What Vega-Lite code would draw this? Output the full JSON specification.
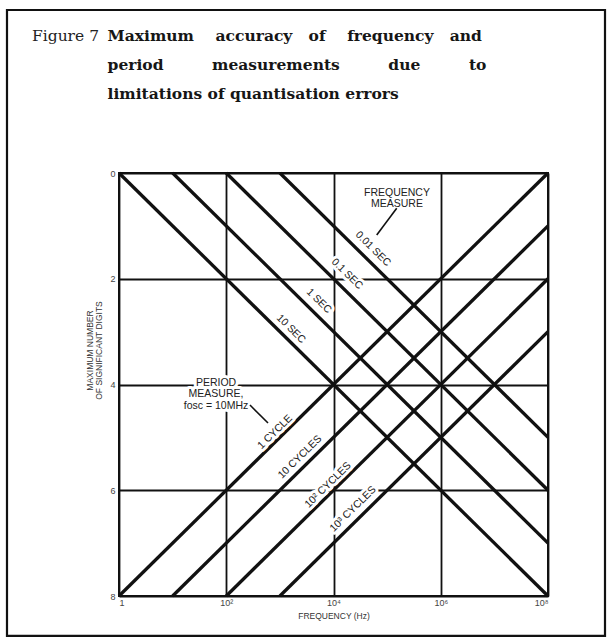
{
  "$schema": "https://vega.github.io/schema/vega-lite/v6.json",
  "width": 429,
  "height": 423,
  "autosize": {"type": "none"},
  "padding": {"left": 119, "top": 173, "right": 63, "bottom": 44},
  "background": "white",
  "title": {
    "text": "Figure 7",
    "subtitle": [
      "\u200b\u00a0\u00a0\u00a0\u00a0\u00a0\u00a0\u00a0\u00a0\u00a0\u00a0\u00a0\u00a0\u00a0\u00a0Maximum\u00a0\u00a0\u00a0\u00a0accuracy\u00a0\u00a0\u00a0of\u00a0\u00a0\u00a0\u00a0frequency\u00a0\u00a0\u00a0and",
      "\u200b\u00a0\u00a0\u00a0\u00a0\u00a0\u00a0\u00a0\u00a0\u00a0\u00a0\u00a0\u00a0\u00a0\u00a0period\u00a0\u00a0\u00a0\u00a0\u00a0\u00a0\u00a0\u00a0\u00a0measurements\u00a0\u00a0\u00a0\u00a0\u00a0\u00a0\u00a0\u00a0\u00a0due\u00a0\u00a0\u00a0\u00a0\u00a0\u00a0\u00a0\u00a0\u00a0to",
      "\u200b\u00a0\u00a0\u00a0\u00a0\u00a0\u00a0\u00a0\u00a0\u00a0\u00a0\u00a0\u00a0\u00a0\u00a0limitations of quantisation errors"
    ],
    "anchor": "start",
    "frame": "group",
    "dx": -87,
    "offset": -94,
    "font": "DejaVu Serif",
    "fontSize": 15.5,
    "fontWeight": "normal",
    "color": "#222222",
    "subtitleFont": "DejaVu Serif",
    "subtitleFontSize": 15.5,
    "subtitleFontWeight": "bold",
    "subtitleColor": "#161616",
    "subtitleLineHeight": 29,
    "subtitlePadding": -15.5
  },
  "config": {
    "font": "Liberation Sans",
    "view": {"stroke": "#111111", "strokeWidth": 2},
    "axis": {
      "grid": true,
      "gridColor": "#111111",
      "gridWidth": 1.8,
      "gridOpacity": 1,
      "domain": false,
      "ticks": false,
      "labelFont": "Liberation Sans",
      "labelFontSize": 9,
      "labelColor": "#444444",
      "titleFont": "Liberation Sans",
      "titleFontSize": 8.5,
      "titleFontWeight": "normal",
      "titleColor": "#333333"
    }
  },
  "datasets": {
    "frame": [
      {"f_left": 0.008153, "f_right": 1156000000, "d_top": -3.083, "d_bottom": 8.756}
    ],
    "lines": [
      {"series": "10 SEC", "f_start": 1, "d_start": 0, "f_end": 100000000, "d_end": 8},
      {"series": "1 SEC", "f_start": 10, "d_start": 0, "f_end": 100000000, "d_end": 7},
      {"series": "0.1 SEC", "f_start": 100, "d_start": 0, "f_end": 100000000, "d_end": 6},
      {"series": "0.01 SEC", "f_start": 1000, "d_start": 0, "f_end": 100000000, "d_end": 5},
      {"series": "1 CYCLE", "f_start": 1, "d_start": 8, "f_end": 100000000, "d_end": 0},
      {"series": "10 CYCLES", "f_start": 10, "d_start": 8, "f_end": 100000000, "d_end": 1},
      {"series": "10² CYCLES", "f_start": 100, "d_start": 8, "f_end": 100000000, "d_end": 2},
      {"series": "10³ CYCLES", "f_start": 1000, "d_start": 8, "f_end": 100000000, "d_end": 3}
    ],
    "labels": [
      {"family": "freq", "text": "0.01 SEC", "f": 54580, "d": 1.437},
      {"family": "freq", "text": "0.1 SEC", "f": 17865, "d": 1.91},
      {"family": "freq", "text": "1 SEC", "f": 5370, "d": 2.421},
      {"family": "freq", "text": "10 SEC", "f": 1611, "d": 2.95},
      {"family": "period", "text": "1 CYCLE", "f": 811, "d": 4.898},
      {"family": "period", "text": "10 CYCLES", "f": 2371, "d": 5.371},
      {"family": "period", "text": "10² CYCLES", "f": 7889, "d": 5.901},
      {"family": "period", "text": "10³ CYCLES", "f": 23121, "d": 6.355},
      {"family": "note", "text": "FREQUENCY\nMEASURE", "f": 152800, "d": 0.369},
      {"family": "note", "text": "PERIOD\nMEASURE,\nfosc = 10MHz", "f": 64.4, "d": 3.97}
    ],
    "leaders": [
      {"f_start": 151000, "d_start": 0.668, "f_end": 63970, "d_end": 1.173},
      {"f_start": 277, "d_start": 4.388, "f_end": 601, "d_end": 4.728}
    ]
  },
  "layer": [
    {
      "data": {"name": "lines"},
      "mark": {"type": "rule", "color": "#111111", "strokeWidth": 3.3},
      "encoding": {
        "x": {
          "field": "f_start",
          "type": "quantitative",
          "scale": {"type": "log", "domain": [1, 100000000], "nice": false},
          "axis": {
            "values": [1, 100, 10000, 1000000, 100000000],
            "labelExpr": "datum.value == 1 ? '1' : datum.value == 100 ? '10²' : datum.value == 10000 ? '10⁴' : datum.value == 1000000 ? '10⁶' : '10⁸'",
            "labelPadding": 2,
            "title": "FREQUENCY (Hz)",
            "titlePadding": 4
          }
        },
        "x2": {"field": "f_end"},
        "y": {
          "field": "d_start",
          "type": "quantitative",
          "scale": {"domain": [0, 8], "reverse": true, "nice": false, "zero": false},
          "axis": {
            "values": [0, 2, 4, 6, 8],
            "labelPadding": 4,
            "title": ["MAXIMUM NUMBER", "OF SIGNIFICANT DIGITS"],
            "titleLineHeight": 9,
            "titlePadding": 6,
            "titleY": 177
          }
        },
        "y2": {"field": "d_end"}
      }
    },
    {
      "data": {"name": "frame"},
      "mark": {"type": "rect", "filled": false, "stroke": "#111111", "strokeWidth": 2.2, "clip": false},
      "encoding": {
        "x": {"field": "f_left", "type": "quantitative"},
        "x2": {"field": "f_right"},
        "y": {"field": "d_top", "type": "quantitative"},
        "y2": {"field": "d_bottom"}
      }
    },
    {
      "data": {"name": "labels"},
      "mark": {"type": "text", "font": "Liberation Sans", "fontSize": 10.5, "lineBreak": "\n", "lineHeight": 11.5, "align": "center", "baseline": "middle", "fill": "white", "stroke": "white", "strokeWidth": 6, "strokeJoin": "round"},
      "encoding": {
        "x": {"field": "f", "type": "quantitative"},
        "y": {"field": "d", "type": "quantitative"},
        "text": {"field": "text"},
        "angle": {
          "condition": [
            {"test": "datum.family === 'freq'", "value": 44.6},
            {"test": "datum.family === 'period'", "value": -44.6}
          ],
          "value": 0
        }
      }
    },
    {
      "data": {"name": "labels"},
      "mark": {"type": "text", "font": "Liberation Sans", "fontSize": 10.5, "lineBreak": "\n", "lineHeight": 11.5, "align": "center", "baseline": "middle", "fill": "#222222"},
      "encoding": {
        "x": {"field": "f", "type": "quantitative"},
        "y": {"field": "d", "type": "quantitative"},
        "text": {"field": "text"},
        "angle": {
          "condition": [
            {"test": "datum.family === 'freq'", "value": 44.6},
            {"test": "datum.family === 'period'", "value": -44.6}
          ],
          "value": 0
        }
      }
    },
    {
      "data": {"name": "leaders"},
      "mark": {"type": "rule", "color": "#111111", "strokeWidth": 1.6},
      "encoding": {
        "x": {"field": "f_start", "type": "quantitative"},
        "x2": {"field": "f_end"},
        "y": {"field": "d_start", "type": "quantitative"},
        "y2": {"field": "d_end"}
      }
    }
  ]
}
